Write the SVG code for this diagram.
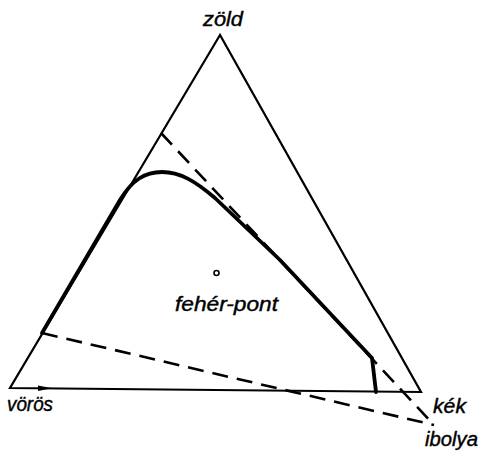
<svg xmlns="http://www.w3.org/2000/svg" width="479" height="452" viewBox="0 0 479 452">
<style>
.edge{fill:none;stroke:#000;stroke-width:2.2;stroke-linejoin:miter}
.dash{fill:none;stroke:#000;stroke-width:2.6;stroke-dasharray:16 9}
.curve{fill:none;stroke:#000;stroke-width:3.8;stroke-linejoin:round;stroke-linecap:round}
.lbl{font-family:"Liberation Sans",Arial,sans-serif;font-style:italic;font-size:19.5px;fill:#000;stroke:#000;stroke-width:0.4}
</style>
<rect width="479" height="452" fill="#fff"/>
<g id="triangle">
<path class="edge" d="M220,35 L10,388 L421,392 Z"/>
<path d="M38,385.5 L52,388.3 L38,391 Z" fill="#000"/>
</g>
<g id="connectors">
<path class="dash" d="M161,133 L434,425"/>
<path class="dash" d="M42,333 L434,425"/>
</g>
<g id="curve">
<path class="curve" d="M42,333 L120,200 C132,180 145,172 162,172 C180,172 195,181 215,198 L280,260 L372,358 L376,392"/>
</g>
<g id="white-point">
<circle cx="216.5" cy="273" r="2.5" fill="none" stroke="#000" stroke-width="1.6"/>
<text class="lbl" x="175" y="311" textLength="103" lengthAdjust="spacingAndGlyphs">fehér-pont</text>
</g>
<g id="labels">
<text class="lbl" x="203" y="26" textLength="40" lengthAdjust="spacingAndGlyphs">zöld</text>
<text class="lbl" x="7" y="411" textLength="46" lengthAdjust="spacingAndGlyphs">vörös</text>
<text class="lbl" x="433" y="413" textLength="33" lengthAdjust="spacingAndGlyphs">kék</text>
<text class="lbl" x="425" y="446" textLength="53" lengthAdjust="spacingAndGlyphs">ibolya</text>
</g>
</svg>
